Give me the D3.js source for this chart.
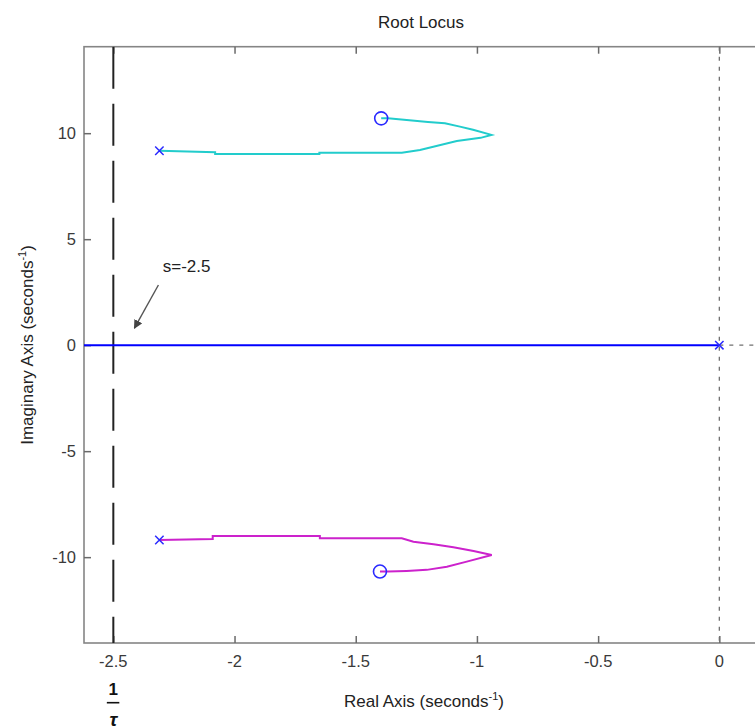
<!DOCTYPE html>
<html>
<head>
<meta charset="utf-8">
<script src="https://cdn.jsdelivr.net/npm/d3@7/dist/d3.min.js"></script>
<style>
  html, body { margin: 0; padding: 0; background: #fff; }
  svg { display: block; }
  text { font-family: "Liberation Sans", Arial, sans-serif; }
</style>
</head>
<body>
<svg id="chart" width="755" height="728"></svg>
<script>
// Root locus branches (real, imaginary)
const upperBranch = [
  [-2.31, 9.17], [-2.08, 9.10], [-2.08, 9.02], [-1.65, 9.02], [-1.65, 9.08],
  [-1.31, 9.08], [-1.235, 9.21], [-1.18, 9.36], [-1.083, 9.63], [-0.985, 9.78],
  [-0.94, 9.92], [-1.016, 10.16], [-1.07, 10.31], [-1.132, 10.47], [-1.202, 10.53],
  [-1.29, 10.62], [-1.367, 10.70], [-1.395, 10.70]
];
const lowerBranch = [
  [-2.31, -9.19], [-2.09, -9.14], [-2.09, -9.00], [-1.648, -9.00], [-1.648, -9.11],
  [-1.31, -9.11], [-1.262, -9.27], [-1.179, -9.39], [-1.097, -9.53], [-1.014, -9.71],
  [-0.939, -9.90], [-1.042, -10.21], [-1.124, -10.45], [-1.207, -10.60], [-1.29, -10.65],
  [-1.367, -10.68], [-1.40, -10.68]
];
const realBranch = [[0, 0], [-3, 0]];
const poles = [[-2.31, 9.17], [-2.31, -9.19], [0, 0]];
const zeros = [[-1.395, 10.70], [-1.40, -10.68]];
const asymptote = -2.5;

const xTicks = [-2.5, -2, -1.5, -1, -0.5, 0];
const xTickLabels = ["-2.5", "-2", "-1.5", "-1", "-0.5", "0"];
const yTicks = [-10, -5, 0, 5, 10];
const yTickLabels = ["-10", "-5", "0", "5", "10"];

(function draw() {
  const svg = d3.select("#chart");
  const left = 84, plotTop = 46.7, plotBottom = 643;
  const x = d3.scaleLinear().domain([-2.621, 0.19]).range([left, left + 2.811 * 242.4]);
  const y = d3.scaleLinear().domain([-14.05, 14.08]).range([plotBottom, plotTop]);
  const right = x.range()[1];
  const defs = svg.append("defs");

  defs.append("clipPath").attr("id", "plotclip")
    .append("rect").attr("x", left).attr("y", plotTop)
    .attr("width", right - left).attr("height", plotBottom - plotTop);

  // frame
  svg.append("rect").attr("x", left).attr("y", plotTop)
    .attr("width", right - left).attr("height", plotBottom - plotTop)
    .attr("fill", "none").attr("stroke", "#858585").attr("stroke-width", 1.6);

  // inward ticks
  const tickLen = 7;
  const xAxisBottom = d3.axisTop(x).tickValues(xTicks).tickSize(tickLen).tickFormat("");
  const xAxisTop = d3.axisBottom(x).tickValues(xTicks).tickSize(tickLen).tickFormat("");
  const yAxisLeft = d3.axisRight(y).tickValues(yTicks).tickSize(tickLen).tickFormat("");
  [[xAxisBottom, `translate(0,${plotBottom})`], [xAxisTop, `translate(0,${plotTop})`],
   [yAxisLeft, `translate(${left},0)`]].forEach(([ax, tr]) => {
    const g = svg.append("g").attr("transform", tr).call(ax);
    g.select(".domain").remove();
    g.selectAll("line").attr("stroke", "#6a6a6a").attr("stroke-width", 1.5);
  });

  // tick labels
  svg.append("g").selectAll("text").data(xTicks).join("text")
    .attr("x", d => x(d)).attr("y", 667)
    .attr("text-anchor", "middle").attr("font-size", 16.5).attr("fill", "#3a3a3a")
    .text((d, i) => xTickLabels[i]);
  svg.append("g").selectAll("text").data(yTicks).join("text")
    .attr("x", 76).attr("y", d => y(d)).attr("dy", "0.36em")
    .attr("text-anchor", "end").attr("font-size", 16.5).attr("fill", "#3a3a3a")
    .text((d, i) => yTickLabels[i]);

  const plot = svg.append("g").attr("clip-path", "url(#plotclip)");

  // dotted axes through the origin
  plot.append("line").attr("x1", x(0)).attr("x2", x(0)).attr("y1", plotTop).attr("y2", plotBottom)
    .attr("stroke", "#707070").attr("stroke-width", 1.3).attr("stroke-dasharray", "4,6");
  plot.append("line").attr("x1", x(0)).attr("x2", right).attr("y1", y(0)).attr("y2", y(0))
    .attr("stroke", "#707070").attr("stroke-width", 1.3).attr("stroke-dasharray", "4,6");

  // s = -2.5 vertical dashed line
  plot.append("line").attr("x1", x(asymptote)).attr("x2", x(asymptote))
    .attr("y1", plotTop).attr("y2", plotBottom)
    .attr("stroke", "#222").attr("stroke-width", 2).attr("stroke-dasharray", "42,15");

  const line = d3.line().x(d => x(d[0])).y(d => y(d[1]));
  plot.append("path").datum(realBranch).attr("d", line)
    .attr("fill", "none").attr("stroke", "#0000ff").attr("stroke-width", 2);
  plot.append("path").datum(upperBranch).attr("d", line)
    .attr("fill", "none").attr("stroke", "#22cccc").attr("stroke-width", 2);
  plot.append("path").datum(lowerBranch).attr("d", line)
    .attr("fill", "none").attr("stroke", "#cc22cc").attr("stroke-width", 2);

  // poles (x) and zeros (o)
  const m = 4.2;
  plot.append("g").selectAll("path").data(poles).join("path")
    .attr("d", d => {
      const cx = x(d[0]), cy = y(d[1]);
      return `M${cx - m},${cy - m}L${cx + m},${cy + m}M${cx - m},${cy + m}L${cx + m},${cy - m}`;
    })
    .attr("stroke", "#2a2aff").attr("stroke-width", 1.5).attr("fill", "none");
  plot.append("g").selectAll("circle").data(zeros).join("circle")
    .attr("cx", d => x(d[0])).attr("cy", d => y(d[1])).attr("r", 6.5)
    .attr("fill", "none").attr("stroke", "#2a2aff").attr("stroke-width", 1.6);

  // annotation
  defs.append("marker").attr("id", "arrowhead")
    .attr("viewBox", "0 0 10 10").attr("refX", 9).attr("refY", 5)
    .attr("markerWidth", 9).attr("markerHeight", 9).attr("markerUnits", "userSpaceOnUse")
    .attr("orient", "auto")
    .append("path").attr("d", "M0,0L10,5L0,10Z").attr("fill", "#444");
  svg.append("line")
    .attr("x1", x(-2.314)).attr("y1", y(2.84)).attr("x2", x(-2.413)).attr("y2", y(0.80))
    .attr("stroke", "#555").attr("stroke-width", 1.4).attr("marker-end", "url(#arrowhead)");
  svg.append("text").attr("x", x(-2.296)).attr("y", y(3.47))
    .attr("font-size", 17).attr("fill", "#222").text("s=-2.5");

  // 1/τ under the s=-2.5 tick
  const fx = x(asymptote);
  svg.append("text").attr("x", fx).attr("y", 695).attr("text-anchor", "middle")
    .attr("font-family", "Liberation Serif, serif").attr("font-weight", "bold")
    .attr("font-size", 17).attr("fill", "#111").text("1");
  svg.append("line").attr("x1", fx - 6.5).attr("x2", fx + 6).attr("y1", 702.7).attr("y2", 702.7)
    .attr("stroke", "#111").attr("stroke-width", 1.6);
  svg.append("text").attr("x", fx).attr("y", 726).attr("text-anchor", "middle")
    .attr("font-family", "Liberation Serif, serif").attr("font-style", "italic").attr("font-weight", "bold")
    .attr("font-size", 19).attr("fill", "#111").text("τ");

  // title and axis labels
  svg.append("text").attr("x", 421).attr("y", 28).attr("text-anchor", "middle")
    .attr("font-size", 17).attr("fill", "#222").text("Root Locus");

  const xl = svg.append("text").attr("x", 424).attr("y", 706.5).attr("text-anchor", "middle")
    .attr("font-size", 17).attr("fill", "#222");
  xl.append("tspan").text("Real Axis (seconds");
  xl.append("tspan").attr("dy", -7).attr("font-size", 11).text("-1");
  xl.append("tspan").attr("dy", 7).text(")");

  const yl = svg.append("text").attr("transform", "translate(33,345) rotate(-90)")
    .attr("text-anchor", "middle").attr("font-size", 17).attr("fill", "#222");
  yl.append("tspan").text("Imaginary Axis (seconds");
  yl.append("tspan").attr("dy", -7).attr("font-size", 11).text("-1");
  yl.append("tspan").attr("dy", 7).text(")");
})();
</script>
</body>
</html>
